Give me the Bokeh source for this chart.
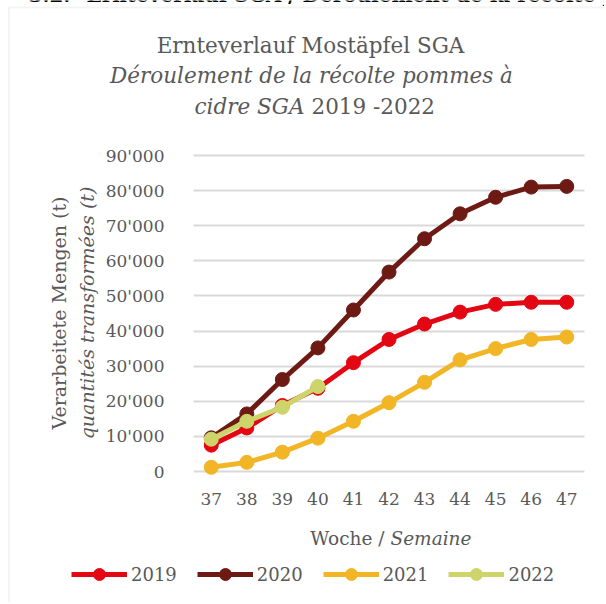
import math
from bokeh.plotting import figure
from bokeh.models import Range1d, FixedTicker, Label, BoxAnnotation, Grid
from bokeh.embed import file_html
from bokeh.resources import INLINE

# ---------------- data ----------------
weeks = [37, 38, 39, 40, 41, 42, 43, 44, 45, 46, 47]
v2019 = [7500, 12400, 18800, 23700, 31000, 37600, 42000, 45400, 47600, 48200, 48200]
v2020 = [9600, 16400, 26200, 35200, 46000, 56800, 66300, 73400, 78100, 81000, 81200]
v2021 = [1200, 2600, 5500, 9500, 14300, 19600, 25400, 31800, 35000, 37600, 38300]
v2022 = [9200, 14300, 18300, 24200]
series_names = ["2019", "2020", "2021", "2022"]
y_ticks = [0, 10000, 20000, 30000, 40000, 50000, 60000, 70000, 80000, 90000]
y_tick_labels = ["0", "10'000", "20'000", "30'000", "40'000", "50'000",
                 "60'000", "70'000", "80'000", "90'000"]

# ---------------- style / layout ----------------
colors = ["#E30613", "#6E1A14", "#F1B526", "#CDD46A"]
FONT = "DejaVu Serif"
TXT = "#595959"

W, H = 604, 602
# plot area in canvas pixels and its data extent
PX_L, PX_R = 193, 584          # x for weeks 36.5 .. 47.5
PY_0, PY_90 = 471, 155         # y for 0 and 90'000
XA, XB = 36.5, 47.5
KX = (PX_R - PX_L) / (XB - XA)
KY = (PY_0 - PY_90) / 90000.0
x_start = XA - PX_L / KX
x_end = x_start + W / KX
y_end = PY_0 / KY
y_start = y_end - H / KY


def dx(px):
    return x_start + px / KX


def dy(py):
    return y_end - py / KY


p = figure(width=W, height=H, x_range=Range1d(x_start, x_end), y_range=Range1d(y_start, y_end),
           output_backend="svg", toolbar_location=None,
           min_border=0, min_border_left=0, min_border_right=0,
           min_border_top=0, min_border_bottom=0)
p.outline_line_color = None
p.background_fill_color = "white"
p.border_fill_color = "white"

# axes pinned to the plot-area edges
p.yaxis.fixed_location = XA
p.xaxis.fixed_location = 0
p.xaxis.ticker = FixedTicker(ticks=weeks)
p.yaxis.ticker = FixedTicker(ticks=y_ticks)
p.yaxis.major_label_overrides = {t: l for t, l in zip(y_ticks, y_tick_labels)}
for ax in (p.xaxis, p.yaxis):
    ax.axis_line_color = None
    ax.major_tick_line_color = None
    ax.minor_tick_line_color = None
    ax.major_label_text_font = FONT
    ax.major_label_text_font_size = "17px"
    ax.major_label_text_color = TXT
p.yaxis.major_label_standoff = 23
p.xaxis.major_label_standoff = 15

# horizontal grid limited to the plot area
p.xgrid.grid_line_color = None
yg = p.ygrid[0]
yg.grid_line_color = "#D9D9D9"
yg.grid_line_width = 2
if "cross_bounds" in Grid.properties():
    yg.cross_bounds = (XA, XB)
else:
    yg.grid_line_color = None
    p.segment(x0=[XA] * len(y_ticks), x1=[XB] * len(y_ticks), y0=y_ticks, y1=y_ticks,
              line_color="#D9D9D9", line_width=2)

# outer chart border (left and top)
p.add_layout(BoxAnnotation(left=dx(8.5), top=dy(7), right=dx(W + 20), bottom=dy(H + 20),
                           fill_alpha=0, line_color="#D9D9D9", line_width=2))

for vals, col, name in zip([v2019, v2020, v2021, v2022], colors, series_names):
    xs = weeks[:len(vals)]
    p.line(xs, vals, line_width=5, line_color=col, legend_label=name)
    p.scatter(xs, vals, size=14, fill_color=col, line_color=col, legend_label=name)

lg = p.legend[0]
lg.orientation = "horizontal"
lg.location = (71, H - 589)
lg.padding = 0
lg.margin = 0
lg.spacing = 20
lg.glyph_width = 56
lg.glyph_height = 30
lg.label_standoff = 4
lg.label_text_font = FONT
lg.label_text_font_size = "18px"
lg.label_text_color = TXT
lg.background_fill_alpha = 0
lg.border_line_alpha = 0


def lab(text, px, py, size, style="normal", align="center", baseline="alphabetic",
        angle=0, color=TXT):
    p.add_layout(Label(x=dx(px), y=dy(py), text=text, text_font=FONT,
                       text_font_size=size, text_font_style=style, text_color=color,
                       text_align=align, text_baseline=baseline, angle=angle))


# page heading, cut off at the top edge as in the reference
lab("3.2.", 28, -6, "20px", "bold", align="left", color="#000000")
lab("Ernteverlauf SGA / Déroulement de la récolte pommes à cidre SGA", 86, -6, "20px",
    "bold", align="left", color="#000000")

# titles
lab("Ernteverlauf Mostäpfel SGA", 310, 45, "21.5px")
lab("Déroulement de la récolte pommes à", 311, 75, "21.5px", "italic")
lab("cidre SGA", 304, 106, "21.5px", "italic", align="right")
lab("2019 -2022", 311, 106, "21.5px", align="left")

# y axis title
lab("Verarbeitete Mengen (t)", 58, 312.5, "19px", baseline="middle", angle=math.pi / 2)
lab("quantités transformées (t)", 86, 312.5, "19px", "italic", baseline="middle", angle=math.pi / 2)

# x axis title
lab("Woche /", 384, 538, "18.5px", align="right")
lab("Semaine", 390, 538, "18.5px", "italic", align="left")

open("out.html", "w").write(file_html(p, INLINE))
